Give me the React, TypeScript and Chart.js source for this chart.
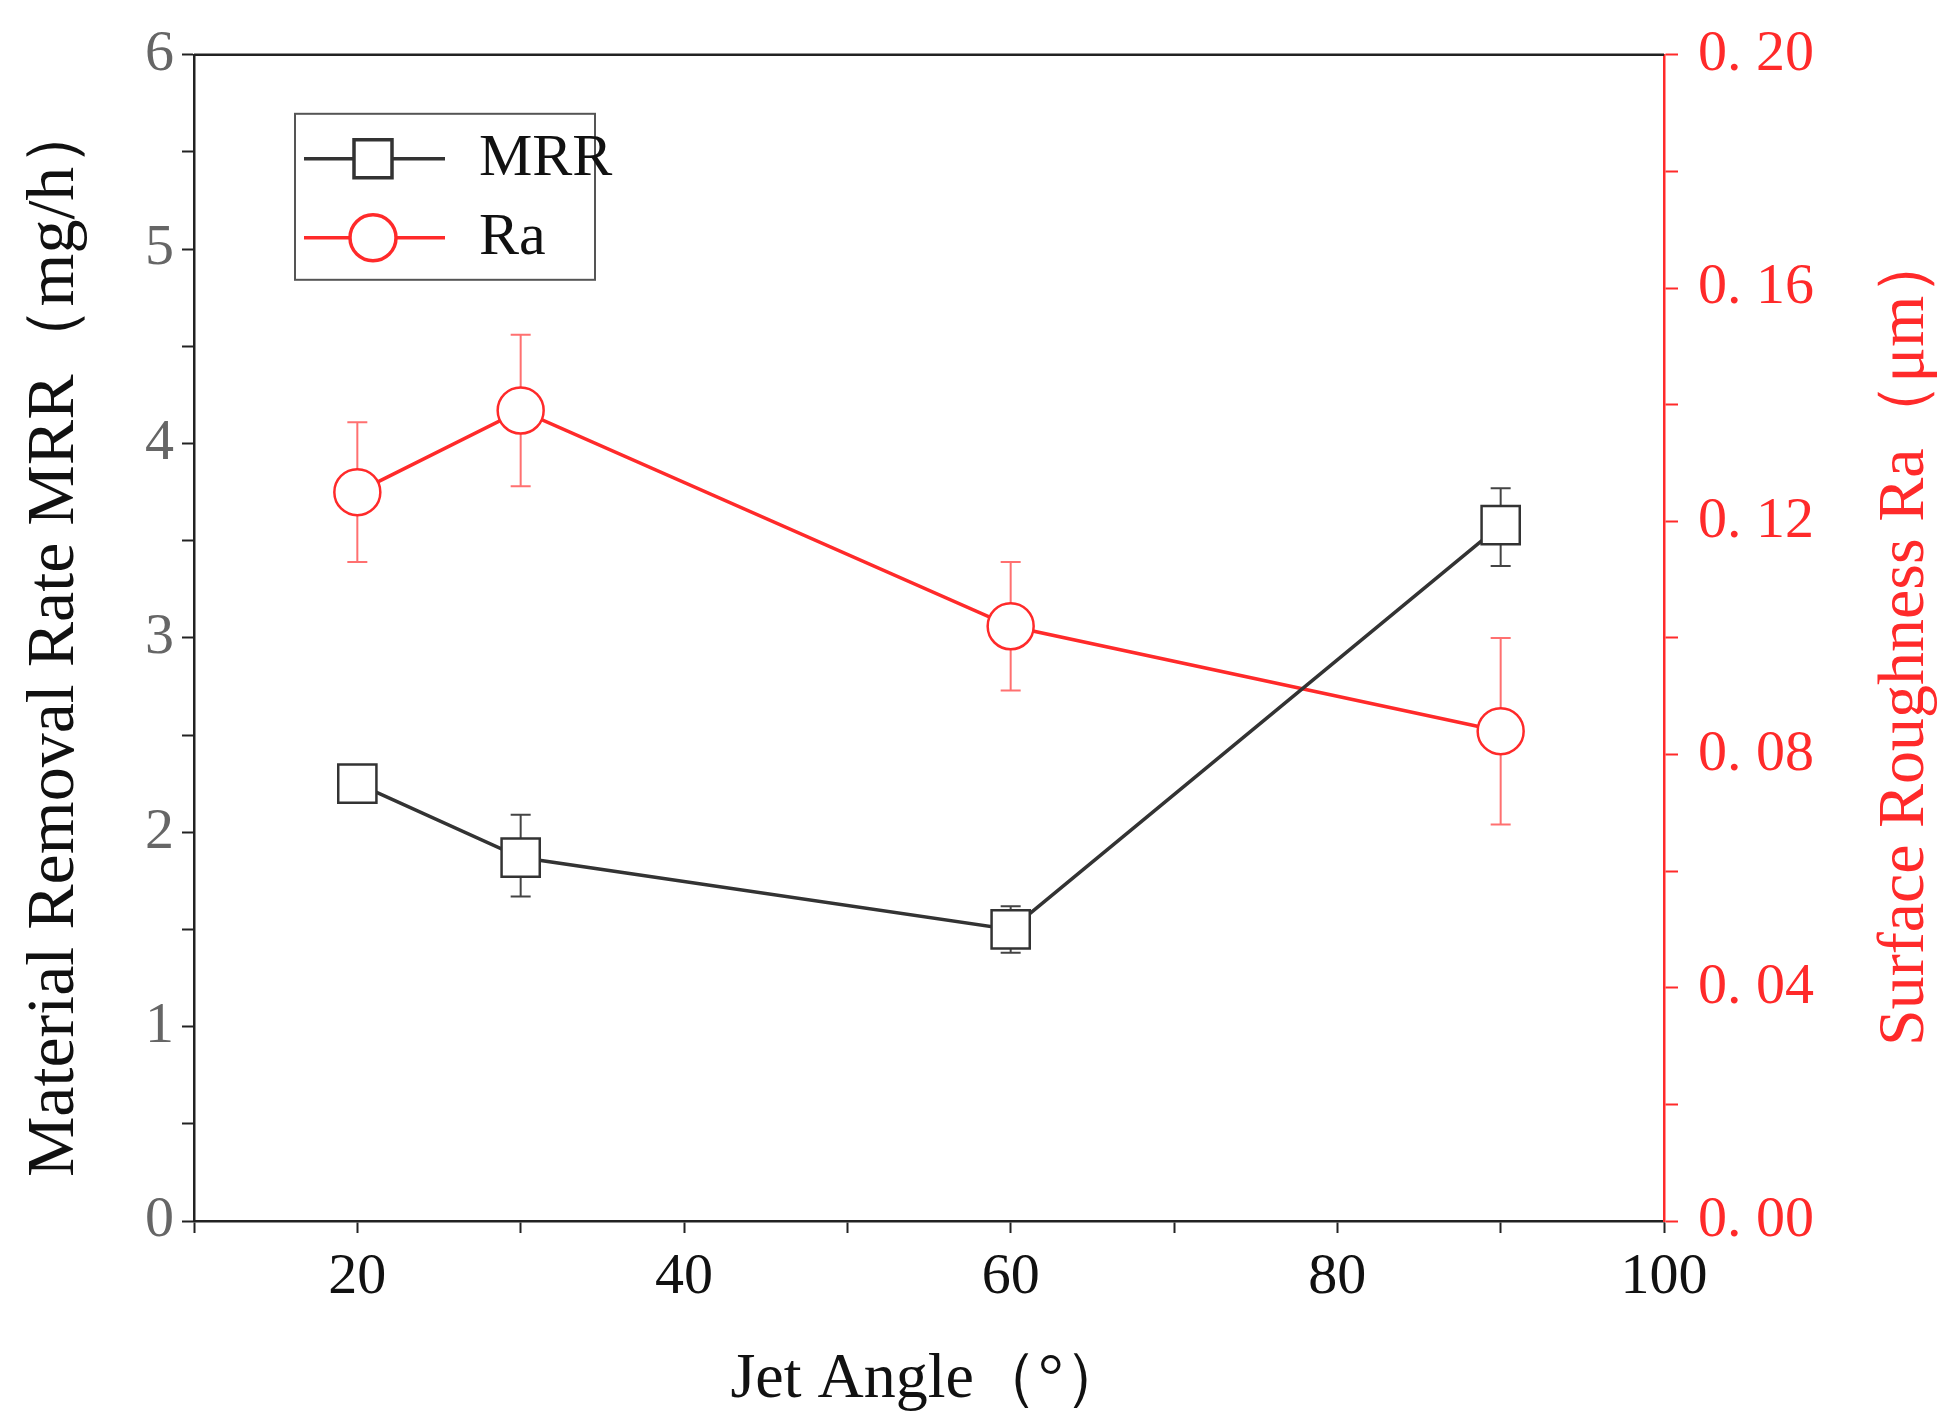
import React, { useEffect, useRef } from "react";
import { Chart, registerables } from "chart.js";
Chart.register(...registerables);

const angles = [20, 30, 60, 90];
const mrr = [2.25, 1.87, 1.5, 3.58];
const mrrLow = [2.25, 1.67, 1.38, 3.37];
const mrrHigh = [2.25, 2.09, 1.62, 3.77];
const ra = [0.125, 0.139, 0.102, 0.084];
const raLow = [0.113, 0.126, 0.091, 0.068];
const raHigh = [0.137, 0.152, 0.113, 0.1];

const RED = "#ff2a2a";
const FONT = "'Liberation Serif', serif";
const rightTitle = "Surface Roughness Ra（μm）";

export default function App() {
  const ref = useRef<HTMLCanvasElement>(null);
  useEffect(() => {
    document.body.style.margin = "0";
    const errPlugin = {
      id: "err",
      beforeDatasetsDraw(chart: any) {
        const ctx = chart.ctx;
        const x = chart.scales.x;
        const draw = (ys: any, lo: number[], hi: number[], color: string) => {
          ctx.save();
          ctx.strokeStyle = color;
          ctx.lineWidth = 2;
          angles.forEach((a, i) => {
            if (lo[i] === hi[i]) return;
            const px = x.getPixelForValue(a);
            const y1 = ys.getPixelForValue(lo[i]);
            const y2 = ys.getPixelForValue(hi[i]);
            ctx.beginPath();
            ctx.moveTo(px, y1); ctx.lineTo(px, y2);
            ctx.moveTo(px - 10, y1); ctx.lineTo(px + 10, y1);
            ctx.moveTo(px - 10, y2); ctx.lineTo(px + 10, y2);
            ctx.stroke();
          });
          ctx.restore();
        };
        draw(chart.scales.y, mrrLow, mrrHigh, "#444");
        draw(chart.scales.y2, raLow, raHigh, "#ff7070");
      },
      afterDraw(chart: any) {
        const ctx = chart.ctx;
        const a = chart.chartArea;
        ctx.save();
        ctx.strokeStyle = "#222";
        ctx.lineWidth = 2.5;
        ctx.beginPath();
        ctx.moveTo(a.left, a.top); ctx.lineTo(a.right, a.top);
        ctx.stroke();
        // right title, reading bottom to top
        ctx.save();
        ctx.translate(1906, (a.top + a.bottom) / 2);
        ctx.rotate(-Math.PI / 2);
        ctx.fillStyle = RED;
        ctx.font = `66px ${FONT}`;
        ctx.textAlign = "center";
        ctx.textBaseline = "middle";
        ctx.fillText(rightTitle, 0, 0);
        ctx.restore();
        // legend
        const lx = a.left + 101, ly = a.top + 59;
        ctx.strokeStyle = "#555";
        ctx.lineWidth = 2;
        ctx.strokeRect(lx, ly, 300, 166);
        const items = [
          { label: "MRR", color: "#333", y: ly + 45, shape: "rect" },
          { label: "Ra", color: RED, y: ly + 124, shape: "circle" },
        ];
        items.forEach((it) => {
          ctx.strokeStyle = it.color;
          ctx.lineWidth = 3.5;
          const cx = lx + 78;
          ctx.beginPath();
          ctx.moveTo(lx + 9, it.y); ctx.lineTo(lx + 150, it.y);
          ctx.stroke();
          ctx.fillStyle = "#fff";
          ctx.beginPath();
          if (it.shape === "rect") ctx.rect(cx - 19, it.y - 19, 38, 38);
          else ctx.arc(cx, it.y, 23, 0, Math.PI * 2);
          ctx.fill(); ctx.stroke();
          ctx.fillStyle = "#111";
          ctx.font = `60px ${FONT}`;
          ctx.textBaseline = "middle";
          ctx.fillText(it.label, lx + 184, it.y);
        });
        ctx.restore();
      },
    };
    const chart = new Chart(ref.current!, {
      type: "line",
      data: {
        datasets: [
          {
            label: "MRR",
            data: angles.map((a, i) => ({ x: a, y: mrr[i] })),
            borderColor: "#333",
            backgroundColor: "#fff",
            borderWidth: 3.5,
            pointStyle: "rect",
            pointRadius: 27,
            pointBorderWidth: 2.5,
            yAxisID: "y",
          },
          {
            label: "Ra",
            data: angles.map((a, i) => ({ x: a, y: ra[i] })),
            borderColor: RED,
            backgroundColor: "#fff",
            borderWidth: 3.5,
            pointStyle: "circle",
            pointRadius: 23,
            pointBorderWidth: 2.5,
            yAxisID: "y2",
          },
        ],
      },
      options: {
        animation: false,
        responsive: false,
        layout: { padding: { top: 22, left: 0, right: 0, bottom: 0 } },
        plugins: { legend: { display: false }, tooltip: { enabled: false } },
        scales: {
          x: {
            type: "linear",
            min: 10,
            max: 100,
            ticks: {
              stepSize: 10,
              color: "#111",
              font: { family: FONT, size: 58 },
              padding: 10,
              callback: (v: any) => (v % 20 === 0 ? String(v) : ""),
            },
            grid: { drawOnChartArea: false, tickLength: 12, tickColor: "#222", tickWidth: 2 },
            border: { color: "#222", width: 2.5 },
            title: { display: true, text: "Jet Angle（°）", color: "#111", font: { family: FONT, size: 64 }, padding: { top: 0 } },
            afterFit: (s: any) => { s.height = 202; },
          },
          y: {
            position: "left",
            min: 0,
            max: 6,
            ticks: {
              stepSize: 0.5,
              color: "#666",
              font: { family: FONT, size: 58 },
              padding: 8,
              callback: (v: any) => (Number.isInteger(v) ? String(v) : ""),
            },
            grid: { drawOnChartArea: false, tickLength: 12, tickColor: "#222", tickWidth: 2 },
            border: { color: "#222", width: 2.5 },
            title: { display: true, text: "Material Removal Rate MRR（mg/h）", color: "#111", font: { family: FONT, size: 68 }, padding: { bottom: 0, top: 14 } },
            afterFit: (s: any) => { s.width = 194; },
          },
          y2: {
            position: "right",
            min: 0,
            max: 0.2,
            ticks: {
              stepSize: 0.02,
              color: RED,
              font: { family: FONT, size: 58 },
              padding: 20,
              callback: (v: any) => {
                const n = Math.round(v * 100);
                return n % 4 === 0 ? "0. " + String(n).padStart(2, "0") : "";
              },
            },
            grid: { drawOnChartArea: false, tickLength: 14, tickColor: RED, tickWidth: 2 },
            border: { color: RED, width: 2.5 },
            title: { display: false },
            afterFit: (s: any) => { s.width = 295; },
          },
        },
      },
      plugins: [errPlugin],
    });
    return () => chart.destroy();
  }, []);
  return (
    <div style={{ width: 1959, height: 1423, background: "#fff" }}>
      <canvas ref={ref} width={1959} height={1423} style={{ width: 1959, height: 1423 }} />
    </div>
  );
}
